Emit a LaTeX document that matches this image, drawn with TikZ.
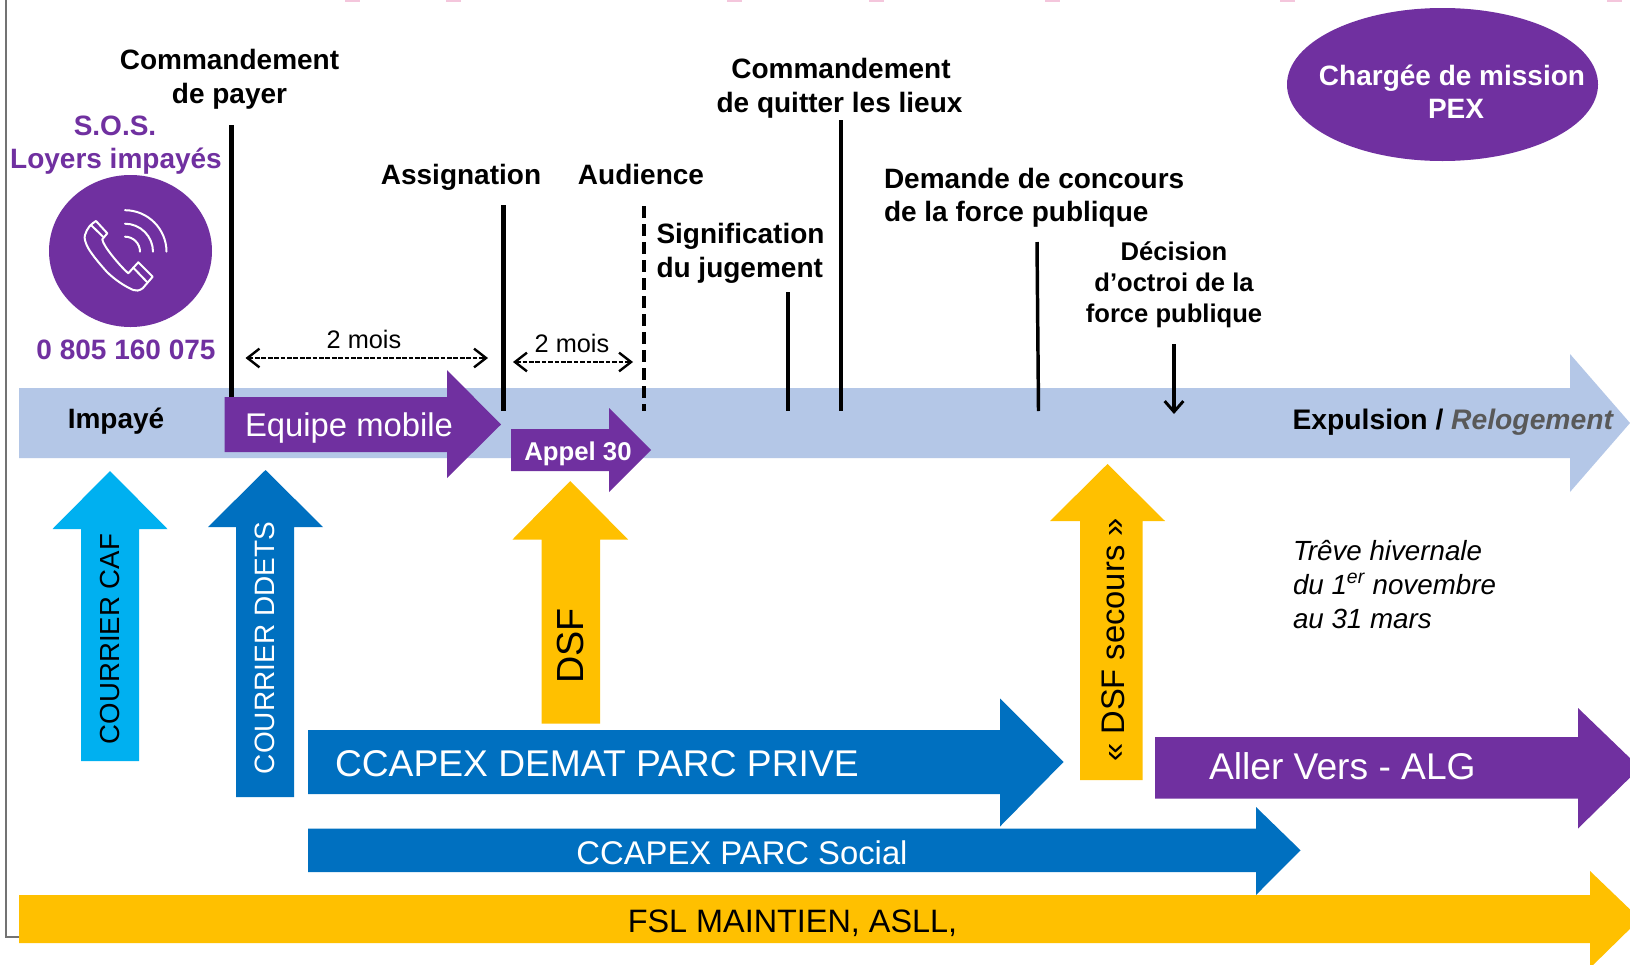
\documentclass[tikz,border=0pt]{standalone}
\usepackage{fontspec}
\setmainfont{Liberation Sans}
\usetikzlibrary{arrows.meta}
\definecolor{pv}{HTML}{7030A0}
\definecolor{bband}{HTML}{B4C7E7}
\definecolor{bl}{HTML}{0070C0}
\definecolor{cy}{HTML}{00B0F0}
\definecolor{gd}{HTML}{FFC000}
\definecolor{gy}{HTML}{595959}
\definecolor{pk}{HTML}{F4C6DC}
\newcommand{\fs}[1]{\fontsize{#1}{#1}\selectfont}
\newcommand{\rarr}[8]{\fill[#1] (#2,#5)--(#3,#5)--(#3,#7)--(#4,{(#5+#6)/2})--(#3,#8)--(#3,#6)--(#2,#6)--cycle;}
\newcommand{\uarr}[8]{\fill[#1] (#2,#8)--(#2,#7)--(#4,#7)--({(#4+#5)/2},#6)--(#5,#7)--(#3,#7)--(#3,#8)--cycle;}
\tikzset{
  x=0.75pt,y=-0.75pt,
  lab/.style={inner sep=0pt,outer sep=0pt,align=center,anchor=base},
  blab/.style={lab,font=\fs{21}\bfseries},
  leader/.style={line width=3.3pt,black},
  span/.style={line width=1.5pt,dash pattern=on 3.5pt off 1.3pt,{Straight Barb[length=9pt,width=14pt,line width=1.8pt]}-{Straight Barb[length=9pt,width=14pt,line width=1.8pt]}},
}
\begin{document}
\begin{tikzpicture}
\useasboundingbox (0,0) rectangle (1630,964);
\fill[white] (0,0) rectangle (1630,964);
\draw[gray!90!black,line width=1pt] (6,0)--(6,937)--(19,937);
\foreach \a in {345,446,727,869,1045,1280,1607}{\fill[pk] (\a,0) rectangle (\a+15,1.5);}
\rarr{bband}{19}{1570}{1630}{388}{458}{354}{492}
\coordinate (c1t) at (231.5,125); \coordinate (c1b) at (231.5,397);
\coordinate (c2t) at (503.5,205); \coordinate (c2b) at (503.5,411);
\coordinate (c3t) at (644,206); \coordinate (c3b) at (644,411);
\coordinate (c4t) at (788,292); \coordinate (c4b) at (788,411);
\coordinate (c5t) at (841,120); \coordinate (c5b) at (841,411);
\coordinate (c6t) at (1037,242); \coordinate (c6b) at (1038.5,411);
\coordinate (c7t) at (1174,344); \coordinate (c7b) at (1174,414);
\draw[leader] (c1t)--(c1b);
\draw[leader] (c2t)--(c2b);
\draw[line width=2.8pt,dash pattern=on 9pt off 4.5pt] (c3t)--(c3b);
\draw[leader] (c4t)--(c4b);
\draw[leader] (c5t)--(c5b);
\draw[line width=2.6pt] (c6t)--(c6b);
\draw[line width=2.4pt,-{Straight Barb[length=8pt,width=14pt,line width=2.2pt]}] (c7t)--(c7b);
\rarr{pv}{224.5}{447}{501}{397}{452}{370}{478}
\rarr{pv}{511}{609}{651}{429}{471}{408}{492}
\fill[pv] (1442.5,84.5) ellipse [x radius=155.5,y radius=76.5];
\fill[pv] (130.5,251) ellipse [x radius=81.5,y radius=76];
\begin{scope}[white,line width=1.5pt,line join=round,line cap=round]
\draw (96,221)--(107.3,233.3)--(102.3,239.3)
  .. controls (103,246) and (120,266) .. (128.3,273.3)
  --(138.3,262.3)--(152.7,276.7)--(142.7,288.3)
  .. controls (139,291) and (136,291) .. (133.3,290)
  .. controls (124,286) and (114,279) .. (106.7,271.7)
  .. controls (99,263) and (93,256) .. (88.3,248.3)
  .. controls (85,242) and (84,238) .. (85,235)
  .. controls (87,228) and (91,224) .. (96,221)--cycle;
\draw (91,225)--(103.3,237);
\draw (133.3,267.7)--(147,282);
\draw (125,236.7) .. controls (133.3,236.7) and (140,243.4) .. (140,251.7);
\draw (125,223.7) .. controls (140.4,223.7) and (153,236.3) .. (153,251.7);
\draw (125,210.2) .. controls (147.8,210.2) and (166.5,228.9) .. (166.5,251.7);
\end{scope}
\node[blab,text=pv] (sos1) at (115,135) {S.O.S.};
\node[blab,text=pv] (sos2) at (116,168) {Loyers impayés};
\node[blab,text=pv] (tel) at (126,359) {0 805 160 075};
\node[blab] (cp1) at (229.5,69) {Commandement};
\node[blab] (cp2) at (229.5,103) {de payer};
\node[blab] (as) at (461,184) {Assignation};
\node[blab] (au) at (641,184) {Audience};
\node[blab,anchor=base west] (si1) at (656.5,243) {Signification};
\node[blab,anchor=base west] (si2) at (656.5,277) {du jugement};
\node[blab] (cq1) at (841,78) {Commandement};
\node[blab] (cq2) at (839.5,112) {de quitter les lieux};
\node[blab,anchor=base west] (de1) at (884,188) {Demande de concours};
\node[blab,anchor=base west] (de2) at (884,221) {de la force publique};
\node[lab,font=\fs{19.2}\bfseries] (do1) at (1174,260) {Décision};
\node[lab,font=\fs{19.2}\bfseries] (do2) at (1174,291) {d’octroi de la};
\node[lab,font=\fs{19.2}\bfseries] (do3) at (1174,322) {force publique};
\node[blab,text=white] (ch1) at (1452,85) {Chargée de mission};
\node[blab,text=white] (ch2) at (1456,118) {PEX};
\node[lab,font=\fs{19}] (m1) at (364,348) {2 mois};
\node[lab,font=\fs{19}] (m2) at (572,352) {2 mois};
\coordinate (s1a) at (245.5,358); \coordinate (s1b) at (488,358);
\coordinate (s2a) at (513,362); \coordinate (s2b) at (633,362);
\draw[span] (s1a)--(s1b);
\draw[span] (s2a)--(s2b);
\node[blab] (imp) at (116,428) {Impayé};
\node[lab,font=\fs{24.6},text=white] (eq) at (349,436) {Equipe mobile};
\node[lab,font=\fs{19.3}\bfseries,text=white] (ap) at (578,460) {Appel 30};
\node[lab,anchor=base east,font=\fs{21.2}\bfseries] (ex) at (1613,429) {Expulsion / {\color{gy}\itshape Relogement}};
\uarr{cy}{81}{139}{52.5}{167.5}{471}{529}{761}
\uarr{bl}{236}{294}{208}{323}{470}{527}{797}
\uarr{gd}{541.5}{600}{512.5}{628}{481}{539.5}{723.5}
\uarr{gd}{1080}{1142.5}{1050}{1165}{464}{521}{780}
\node[font=\fs{20.7},rotate=90,inner sep=0pt] (cc) at (110,639) {COURRIER CAF};
\node[font=\fs{21},rotate=90,inner sep=0pt,text=white] (cd) at (265,648) {COURRIER DDETS};
\node[font=\fs{28.3},rotate=90,inner sep=0pt] (ds) at (571,646) {DSF};
\node[font=\fs{24.5},rotate=90,inner sep=0pt] (dss) at (1113,640) {« DSF secours »};
\rarr{bl}{308}{1000}{1063.5}{730}{794}{698.5}{826.5}
\rarr{pv}{1155}{1578}{1640}{737}{798.5}{708}{828.5}
\rarr{bl}{308}{1256}{1300.5}{828.5}{872}{807}{895}
\rarr{gd}{19}{1590}{1640}{895}{943}{871}{968}
\node[lab,anchor=base west,font=\fs{27.9},text=white] (dem) at (335,776.5) {CCAPEX DEMAT PARC PRIVE};
\node[lab,anchor=base west,font=\fs{27.9},text=white] (al) at (1209,779.5) {Aller Vers - ALG};
\node[lab,font=\fs{24.6},text=white] (soc) at (742,864) {CCAPEX PARC Social};
\node[lab,font=\fs{24.3}] (fsl) at (792.5,932) {FSL MAINTIEN, ASLL,};
\node[lab,anchor=base west,font=\fs{20.8}\itshape] (t1) at (1293,560) {Trêve hivernale};
\node[lab,anchor=base west,font=\fs{20.8}\itshape] (t2) at (1293,594) {du 1\textsuperscript{er} novembre};
\node[lab,anchor=base west,font=\fs{20.8}\itshape] (t3) at (1293,628) {au 31 mars};
\end{tikzpicture}
\end{document}
